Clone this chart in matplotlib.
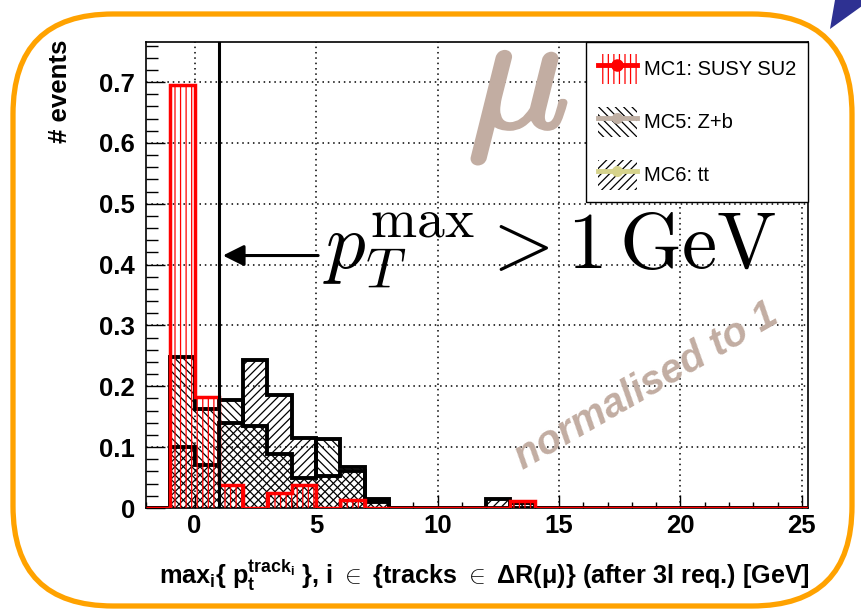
import matplotlib
matplotlib.use("Agg")
import matplotlib.pyplot as plt
import numpy as np
from matplotlib.patches import Patch, FancyBboxPatch, Polygon
from matplotlib.lines import Line2D
from matplotlib.ticker import MultipleLocator
import matplotlib.patheffects as pe

# bin edges (GeV), bins of 1 GeV starting at -2
edges = np.arange(-2, 27)

# normalised histograms, one value per bin
mc1_su2 = [0, 0.695, 0.182, 0.037, 0, 0.025, 0.037, 0, 0.013, 0, 0, 0, 0, 0,
           0, 0.012, 0, 0, 0, 0, 0, 0, 0, 0, 0, 0, 0, 0]
mc5_zb = [0, 0.248, 0.162, 0.177, 0.134, 0.088, 0.050, 0.113, 0.068, 0.010, 0, 0, 0, 0,
          0, 0.008, 0, 0, 0, 0, 0, 0, 0, 0, 0, 0, 0, 0]
mc6_tt = [0, 0.100, 0.071, 0.140, 0.244, 0.185, 0.115, 0.053, 0.060, 0.015, 0, 0, 0, 0,
          0.015, 0, 0, 0, 0, 0, 0, 0, 0, 0, 0, 0, 0, 0]

labels = ["MC1: SUSY SU2", "MC5: Z+b", "MC6: tt"]
cut = 1.0

plt.rcParams['font.family'] = ['Liberation Sans', 'DejaVu Sans']
plt.rcParams['mathtext.fontset'] = 'custom'
plt.rcParams['mathtext.rm'] = 'Liberation Sans:bold'
plt.rcParams['mathtext.it'] = 'Liberation Sans:bold'
plt.rcParams['mathtext.bf'] = 'Liberation Sans:bold'
plt.rcParams['hatch.linewidth'] = 0.9

fig = plt.figure(figsize=(8.62, 6.16), dpi=100)
ax = fig.add_axes([146 / 862, 108 / 616, 662 / 862, 466 / 616])
ax.set_zorder(1)

# decoration layer in pixel coordinates
deco = fig.add_axes([0, 0, 1, 1])
deco.set_zorder(0)
deco.set_xlim(0, 862)
deco.set_ylim(616, 0)
deco.axis('off')
deco.add_patch(FancyBboxPatch((13, 14), 839, 592, boxstyle='round,pad=0,rounding_size=100',
                              fill=False, ec='#FFA200', lw=3.8))
deco.add_patch(Polygon([(835, 0), (862, 0), (862, 6), (830, 29)], closed=True,
                       fc='#2E3192', ec='none'))
deco.text(810, 575, r"max$_{i}${ p$_{t}^{track_{i}}$ }, i $\in$ {tracks $\in$ $\Delta$R($\mu$)} (after 3l req.) [GeV]",
          ha='right', va='center', fontsize=18.2, fontweight='bold')
deco.text(60, 40, "# events", rotation=90, ha='center', va='top', fontsize=18.5, fontweight='bold')

# histograms: transparent hatched fills, then thick outlines
ax.stairs(mc6_tt, edges, fill=True, facecolor='none', edgecolor='black', hatch='////', lw=0, zorder=2)
ax.stairs(mc5_zb, edges, fill=True, facecolor='none', edgecolor='black', hatch='\\\\\\\\', lw=0, zorder=2)
ax.stairs(mc6_tt, edges, color='black', lw=2.8, baseline=0, zorder=3)
ax.stairs(mc5_zb, edges, color='black', lw=2.8, baseline=0, zorder=3)
ax.stairs(mc1_su2, edges, fill=True, facecolor='none', edgecolor='red', hatch='|||', lw=0, zorder=4)
ax.stairs(mc1_su2, edges, color='red', lw=2.5, baseline=0, zorder=5)

ax.axvline(cut, color='black', lw=2.2, zorder=6)
ax.annotate('', xy=(cut + 0.05, 0.415), xytext=(5.2, 0.415),
            arrowprops=dict(arrowstyle='-|>', lw=2.2, color='black', mutation_scale=32),
            zorder=6)
ax.text(5.3, 0.396, r"$p_T^{\max} > 1\,\mathrm{GeV}$", math_fontfamily='cm',
        fontsize=57, ha='left', va='baseline', zorder=6)

tan = '#C2ADA2'
mu = ax.text(13.3, 0.69, r"$\mu$", math_fontfamily='cm', fontsize=122, color=tan,
             ha='center', va='center', zorder=1)
mu.set_path_effects([pe.withStroke(linewidth=3, foreground=tan)])
ax.text(18.8, 0.185, "normalised to 1", rotation=30, rotation_mode='anchor',
        ha='center', va='baseline', fontsize=29, fontweight='bold', style='italic',
        color=tan, zorder=1)

ax.set_xlim(-2, 25.25)
ax.set_ylim(0, 0.766)
ax.xaxis.set_major_locator(MultipleLocator(5))
ax.xaxis.set_minor_locator(MultipleLocator(1))
ax.yaxis.set_major_locator(MultipleLocator(0.1))
ax.yaxis.set_minor_locator(MultipleLocator(0.02))
ax.yaxis.set_major_formatter(matplotlib.ticker.FuncFormatter(lambda v, p: '0' if abs(v) < 1e-9 else f'{v:.1f}'))
ax.tick_params(axis='both', which='both', direction='in', top=False, right=False, width=1)
ax.tick_params(axis='y', which='major', length=14, pad=8, labelsize=18.5)
ax.tick_params(axis='y', which='minor', length=8.5)
ax.tick_params(axis='x', which='major', length=9.5, pad=4, labelsize=18.5)
ax.tick_params(axis='x', which='minor', length=4)
for lab in ax.get_xticklabels() + ax.get_yticklabels():
    lab.set_fontweight('bold')
for sp in ax.spines.values():
    sp.set_linewidth(1.2)
ax.grid(True, which='major', color='black', ls=(0, (1, 2.5)), lw=1.1)
ax.set_axisbelow(True)

handles = [
    (Patch(facecolor='none', edgecolor='red', hatch='|||', lw=0),
     Line2D([], [], color='red', lw=3.5, marker='o', ms=8)),
    (Patch(facecolor='none', edgecolor='black', hatch='\\\\\\\\', lw=0),
     Line2D([], [], color='#BFAFA3', lw=3.5, marker='o', ms=7)),
    (Patch(facecolor='none', edgecolor='black', hatch='////', lw=0),
     Line2D([], [], color='#D6D38C', lw=3.5, marker='o', ms=7)),
]
leg = ax.legend(handles, labels, loc='upper right', bbox_to_anchor=(1, 1), borderaxespad=0,
                fancybox=False, framealpha=1, edgecolor='black', fontsize=14.5,
                handlelength=1.9, handleheight=1.9, labelspacing=1.15, borderpad=0.6,
                handletextpad=0.35)
leg.get_frame().set_linewidth(1.0)
leg.set_zorder(10)

fig.savefig('out.png', dpi=100)
